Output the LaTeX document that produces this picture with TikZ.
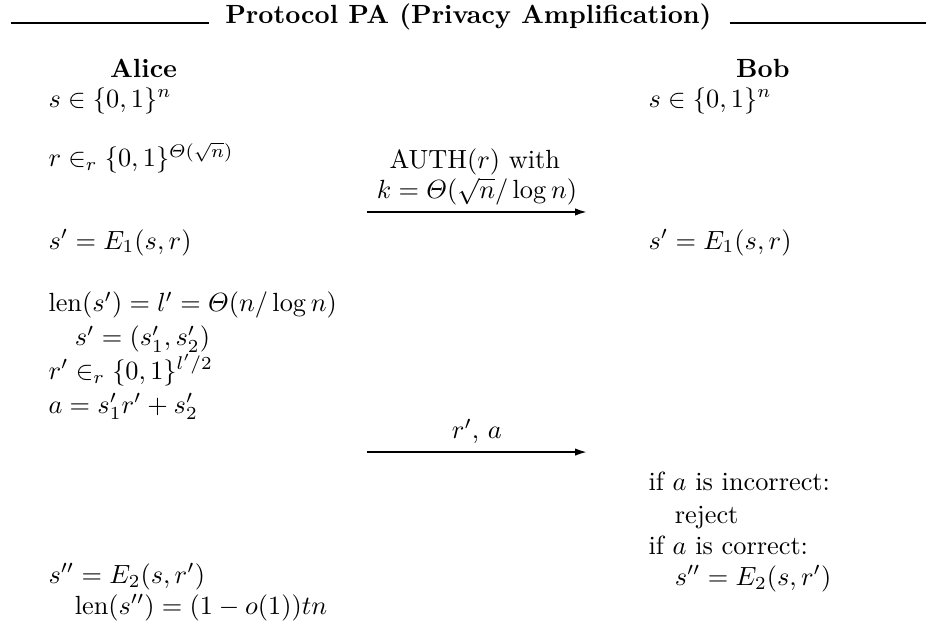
\documentclass[tikz,border=0pt]{standalone}
\usepackage{amsmath}
\usetikzlibrary{positioning,calc,arrows.meta}

\tikzset{
    party/.style={anchor=base, inner sep=0pt, font=\bfseries},
    line/.style={anchor=base west, inner sep=0pt},
    msg/.style={-{Latex[length=4.5pt,width=2.8pt]}, line width=0.7pt},
    rule/.style={line width=0.7pt},
}

\begin{document}
\begin{tikzpicture}[x=1pt,y=1pt]
    \useasboundingbox (0,0) rectangle (356.3,-243.7);

    % heading with rules on both sides
    \node[party] (title) at (178.1,-8.75) {Protocol PA (Privacy Amplification)};
    \coordinate (t1) at (4.3,-8.75);
    \coordinate (t2) at (352,-8.75);
    \draw[rule] (t1) -- ($(title.base west)+(-5.8pt,0)$);
    \draw[rule] ($(title.base east)+(7pt,0)$) -- (t2);

    % Alice
    \node[party] (a0) at (54.6,-29.3) {Alice};
    \node[line] (a1) at (18.25,-40.7) {$s \in \{0,1\}^n$};
    \node[line] (a2) at ($(a1.base west)+(0,-22.8pt)$) {$r \in_r \{0,1\}^{\varTheta(\sqrt{n})}$};
    \node[line] (a3) at ($(a2.base west)+(0,-31.2pt)$) {$s' = E_1(s,r)$};
    \node[line] (a4) at ($(a3.base west)+(0,-23.9pt)$) {$\mathrm{len}(s') = l' = \varTheta(n/\log n)$};
    \node[line] (a5) at ($(a4.base west)+(10pt,-12.8pt)$) {$s' = (s'_1, s'_2)$};
    \node[line] (a6) at ($(a4.base west)+(0,-25.6pt)$) {$r' \in_r \{0,1\}^{l'/2}$};
    \node[line] (a7) at ($(a6.base west)+(0,-13pt)$) {$a = s'_1 r' + s'_2$};
    \node[line] (a8) at ($(a7.base west)+(0,-64.6pt)$) {$s'' = E_2(s,r')$};
    \node[line] (a9) at ($(a8.base west)+(10pt,-11.8pt)$) {$\mathrm{len}(s'') = (1-o(1))tn$};

    % Bob
    \node[party] (b0) at (290.1,-29.3) {Bob};
    \node[line] (b1) at (246.4,-40.7) {$s \in \{0,1\}^n$};
    \node[line] (b2) at ($(b1.base west)+(0,-54pt)$) {$s' = E_1(s,r)$};
    \node[line] (b3) at ($(b2.base west)+(0,-92pt)$) {if $a$ is incorrect:};
    \node[line] (b4) at ($(b3.base west)+(10pt,-12.2pt)$) {reject};
    \node[line] (b5) at ($(b3.base west)+(0,-24.3pt)$) {if $a$ is correct:};
    \node[line] (b6) at ($(b5.base west)+(10pt,-11.6pt)$) {$s'' = E_2(s,r')$};

    % messages
    \coordinate (c1) at (139.5,-80.6);
    \coordinate (c2) at (223.2,-80.6);
    \coordinate (d1) at (139.5,-171.9);
    \coordinate (d2) at (223.2,-171.9);

    \node[anchor=base, inner sep=0pt] (k1) at ($(c1)!0.5!(c2)+(0,5pt)$) {$k = \varTheta(\sqrt{n}/\log n)$};
    \node[anchor=base, inner sep=0pt] (k0) at ($(k1.base)+(-0.8pt,11.6pt)$) {AUTH$(r)$ with};
    \node[anchor=base, inner sep=0pt] (m1) at ($(d1)!0.5!(d2)+(0,5pt)$) {$r'$, $a$};

    \draw[msg] (c1) -- (c2);
    \draw[msg] (d1) -- (d2);
\end{tikzpicture}
\end{document}
